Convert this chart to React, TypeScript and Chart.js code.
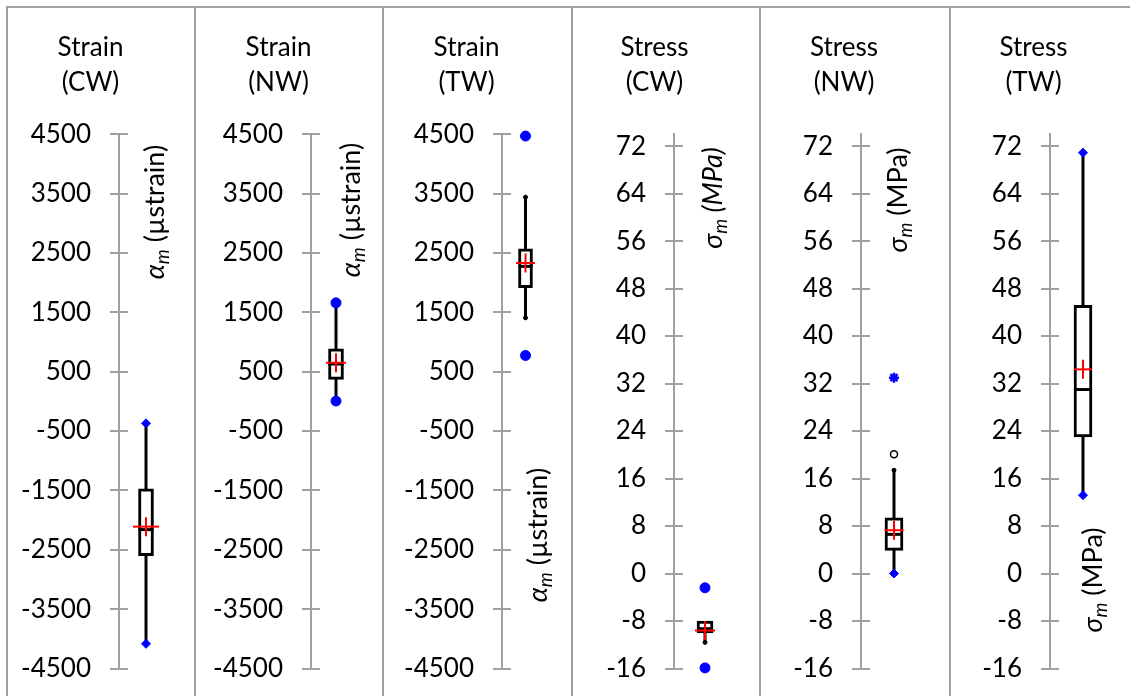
import React, { useEffect, useRef } from 'react';
import { Chart, registerables } from 'chart.js';

Chart.register(...registerables);

const FONT = "Lato, 'Noto Sans', 'DejaVu Sans', sans-serif";

// ---------- data ----------
const panelTitles = [
  ['Strain', '(CW)'],
  ['Strain', '(NW)'],
  ['Strain', '(TW)'],
  ['Stress', '(CW)'],
  ['Stress', '(NW)'],
  ['Stress', '(TW)'],
];
const strainTicks = [-4500, -3500, -2500, -1500, -500, 500, 1500, 2500, 3500, 4500];
const stressTicks = [-16, -8, 0, 8, 16, 24, 32, 40, 48, 56, 64, 72];

const whiskerLow = [-4084, 6, 1408, -11.6, 0, 13.2];
const q1 = [-2598, 371, 1917, -10.0, 3.9, 23.0];
const median = [-2160, 630, 2275, -9.3, 6.6, 31.0];
const q3 = [-1475, 887, 2572, -8.0, 9.4, 45.2];
const whiskerHigh = [-370, 1660, 3441, -8.0, 17.4, 70.9];
const means = [-2110, 651, 2332, -9.6, 7.3, 34.4];
const minimums = [-4084, 6, 774, -15.9, 0, 13.2];
const maximums = [-370, 1660, 4470, -2.4, 33.0, 70.9];
const outliers: number[][] = [[], [], [], [], [20.1], []];

const minStyles = ['rectRot', 'circle', 'circle', 'circle', 'rectRot', 'rectRot'];
const maxStyles = ['rectRot', 'circle', 'circle', 'circle', 'star', 'rectRot'];

type Seg = { t: string; it?: boolean; sub?: boolean };
const strainLabel: Seg[] = [{ t: 'α', it: true }, { t: 'm', it: true, sub: true }, { t: ' (µstrain)' }];
const stressLabelItalic: Seg[] = [{ t: 'σ', it: true }, { t: 'm', it: true, sub: true }, { t: ' (MPa)', it: true }];
const stressLabel: Seg[] = [{ t: 'σ', it: true }, { t: 'm', it: true, sub: true }, { t: ' (MPa)' }];
const axisLabels = [strainLabel, strainLabel, strainLabel, stressLabelItalic, stressLabel, stressLabel];

// ---------- layout (page px) ----------
const PAGE_W = 1130;
const PAGE_H = 696;
const panelX = [7, 195, 383, 572, 760, 950];
const axisX = [119, 311, 502, 674, 861, 1050];
const boxX = [146, 336, 525.5, 705, 894, 1083];
const boxW = [15, 15, 14, 16, 18, 18];
const meanHalfW = [13, 10, 9.5, 10, 9.5, 9];
const labelDX = [36, 40, 36, 39, 37, 43];
const labelCY = [212, 210, 535, 198, 200, 580];
const CANVAS_TOP = 8;
const PLOT_TOP = 134.3;
const PLOT_BOTTOM = 668.5;
const GRAY = '#a0a0a0';
const FS = 26;
const LABEL_FS = 27;

function Panel({ i }: { i: number }) {
  const ref = useRef<HTMLCanvasElement>(null);
  const left = panelX[i] + 1;
  const right = i < 5 ? panelX[i + 1] - 1 : PAGE_W;
  const width = right - left;
  const height = PAGE_H - CANVAS_TOP;

  useEffect(() => {
    if (!ref.current) return;
    const isStrain = i < 3;
    const tickVals = isStrain ? strainTicks : stressTicks;
    const axisRel = axisX[i] - left;
    const boxRel = boxX[i] - left;
    const plotRight = 2 * boxRel - axisRel;
    const titleLine = 35;
    const titleTop = 22;
    const titleBottom = PLOT_TOP - CANVAS_TOP - titleTop - 2 * titleLine;

    const capPts: { x: number; y: number }[] = [];
    if (whiskerLow[i] !== minimums[i] && whiskerLow[i] !== q1[i]) capPts.push({ x: 0, y: whiskerLow[i] });
    if (whiskerHigh[i] !== maximums[i] && whiskerHigh[i] !== q3[i]) capPts.push({ x: 0, y: whiskerHigh[i] });

    const extrasPlugin = {
      id: 'extras' + i,
      beforeDatasetsDraw(chart: any) {
        const { ctx, chartArea, scales } = chart;
        ctx.save();
        ctx.strokeStyle = GRAY;
        ctx.lineWidth = 2;
        tickVals.forEach((v) => {
          const y = Math.round(scales.y.getPixelForValue(v));
          ctx.beginPath();
          ctx.moveTo(chartArea.left, y);
          ctx.lineTo(chartArea.left + 9, y);
          ctx.stroke();
        });
        ctx.restore();
      },
      afterDraw(chart: any) {
        const { ctx, chartArea } = chart;
        const segs = axisLabels[i];
        const fontOf = (s: Seg) =>
          `${s.it ? 'italic ' : ''}${s.sub ? Math.round(LABEL_FS * 0.7) : LABEL_FS}px ${FONT}`;
        ctx.save();
        ctx.translate(chartArea.left + labelDX[i], labelCY[i] - CANVAS_TOP);
        ctx.rotate(-Math.PI / 2);
        let total = 0;
        segs.forEach((s) => {
          ctx.font = fontOf(s);
          total += ctx.measureText(s.t).width;
        });
        let x = -total / 2;
        ctx.fillStyle = '#000';
        ctx.textBaseline = 'middle';
        ctx.textAlign = 'left';
        segs.forEach((s) => {
          ctx.font = fontOf(s);
          ctx.fillText(s.t, x, s.sub ? LABEL_FS * 0.3 : 0);
          x += ctx.measureText(s.t).width;
        });
        ctx.restore();
      },
    };

    const chart = new Chart(ref.current, {
      type: 'scatter',
      data: {
        datasets: [
          {
            type: 'scatter',
            data: [{ x: 0, y: whiskerLow[i] }, { x: 0, y: whiskerHigh[i] }],
            showLine: true,
            borderColor: '#000',
            borderWidth: 3,
            pointRadius: 0,
            clip: false,
            order: 7,
          } as any,
          {
            type: 'bar',
            data: [{ x: 0, y: [q1[i], q3[i]] }],
            backgroundColor: '#fff',
            borderColor: '#000',
            borderWidth: 3,
            borderSkipped: false,
            barThickness: boxW[i],
            clip: false,
            order: 6,
          } as any,
          {
            type: 'scatter',
            data: [{ x: 0, y: median[i] }],
            pointStyle: 'line',
            pointRadius: boxW[i] / 2,
            pointBorderColor: '#000',
            pointBorderWidth: 3,
            clip: false,
            order: 5,
          } as any,
          {
            type: 'scatter',
            data: capPts,
            pointStyle: 'circle',
            pointRadius: 2,
            pointBackgroundColor: '#000',
            pointBorderColor: '#000',
            pointBorderWidth: 1,
            clip: false,
            order: 4,
          } as any,
          {
            type: 'scatter',
            data: [{ x: 0, y: means[i] }],
            pointStyle: 'line',
            pointRadius: meanHalfW[i],
            pointBorderColor: '#ff0000',
            pointBorderWidth: 2,
            clip: false,
            order: 3,
          } as any,
          {
            type: 'scatter',
            data: [{ x: 0, y: means[i] }],
            pointStyle: 'line',
            pointRotation: 90,
            pointRadius: 9.5,
            pointBorderColor: '#ff0000',
            pointBorderWidth: 2,
            clip: false,
            order: 3,
          } as any,
          {
            type: 'scatter',
            data: outliers[i].map((v) => ({ x: 0, y: v })),
            pointStyle: 'circle',
            pointRadius: 3.5,
            pointBackgroundColor: '#fff',
            pointBorderColor: '#000',
            pointBorderWidth: 1.5,
            clip: false,
            order: 2,
          } as any,
          {
            type: 'scatter',
            data: [{ x: 0, y: minimums[i] }],
            pointStyle: minStyles[i],
            pointRadius: minStyles[i] === 'rectRot' ? 4.5 : 5,
            pointBackgroundColor: '#0000ff',
            pointBorderColor: '#0000ff',
            pointBorderWidth: 1,
            clip: false,
            order: 1,
          } as any,
          {
            type: 'scatter',
            data: [{ x: 0, y: maximums[i] }],
            pointStyle: maxStyles[i],
            pointRadius: maxStyles[i] === 'rectRot' ? 4.5 : 5,
            pointBackgroundColor: '#0000ff',
            pointBorderColor: '#0000ff',
            pointBorderWidth: maxStyles[i] === 'star' ? 2.5 : 1,
            clip: false,
            order: 1,
          } as any,
        ],
      },
      options: {
        responsive: false,
        maintainAspectRatio: false,
        animation: false,
        events: [],
        layout: {
          padding: { left: 0, top: 0, right: width - plotRight, bottom: PAGE_H - PLOT_BOTTOM },
        },
        plugins: {
          legend: { display: false },
          tooltip: { enabled: false },
          title: {
            display: true,
            text: panelTitles[i],
            color: '#000',
            font: { family: FONT, size: FS, weight: 'normal', lineHeight: titleLine + 'px' },
            padding: { top: titleTop, bottom: titleBottom },
          },
        },
        scales: {
          x: { type: 'linear', display: false, min: -1, max: 1 },
          y: {
            type: 'linear',
            min: isStrain ? -4500 : -16,
            max: isStrain ? 4500 : 74,
            afterBuildTicks: (s: any) => {
              s.ticks = tickVals.map((v) => ({ value: v }));
            },
            afterFit: (s: any) => {
              s.width = axisRel;
              s.paddingTop = 0;
              s.paddingBottom = 0;
            },
            border: { display: true, color: GRAY, width: 2 },
            grid: { display: true, drawOnChartArea: false, drawTicks: true, tickLength: 9, color: GRAY, lineWidth: 2 },
            ticks: {
              color: '#000',
              padding: 19,
              font: { family: FONT, size: FS },
              callback: (v: any) => String(v),
            },
          },
        },
      } as any,
      plugins: [extrasPlugin],
    });
    return () => chart.destroy();
  }, [i]);

  return (
    <canvas
      ref={ref}
      width={width}
      height={height}
      style={{ position: 'absolute', left, top: CANVAS_TOP, width, height }}
    />
  );
}

export default function App() {
  return (
    <div
      style={{
        position: 'absolute',
        left: 0,
        top: 0,
        width: PAGE_W,
        height: PAGE_H,
        overflow: 'hidden',
        background: '#fff',
      }}
    >
      <div style={{ position: 'absolute', left: 6, top: 6, width: PAGE_W - 6, height: 2, background: GRAY }} />
      {panelX.map((x) => (
        <div key={x} style={{ position: 'absolute', left: x - 1, top: 6, width: 2, height: PAGE_H, background: GRAY }} />
      ))}
      {panelTitles.map((_, i) => (
        <Panel key={i} i={i} />
      ))}
    </div>
  );
}
